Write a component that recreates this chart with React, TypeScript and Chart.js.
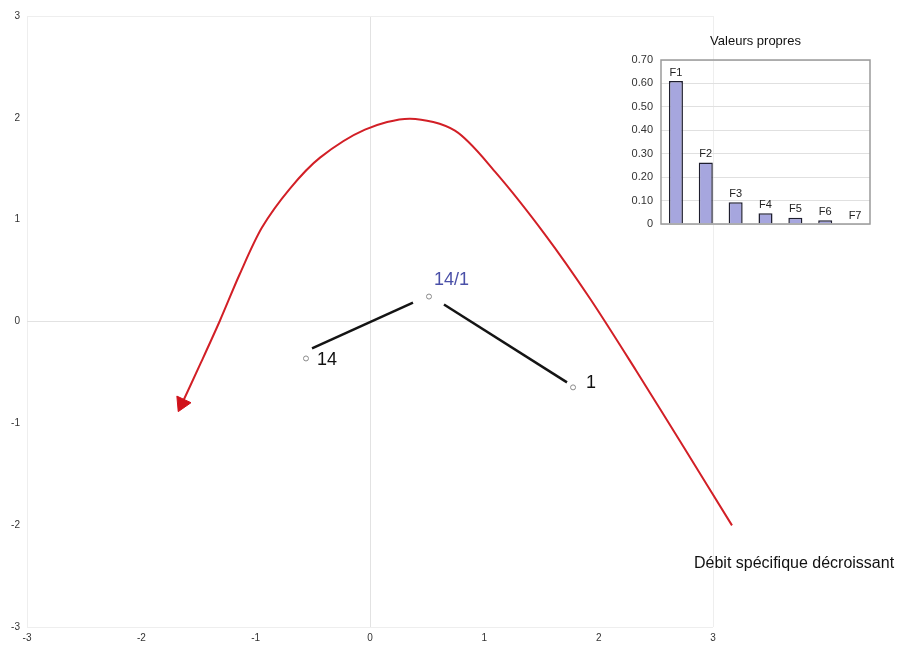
import React, { useEffect, useRef } from "react";
import { Chart, registerables } from "chart.js";

Chart.register(...registerables);

const FONT = '"Liberation Sans", Arial, sans-serif';

// Main factor map (axes -3..3)
const axisMin = -3;
const axisMax = 3;

// Red trajectory curve (data units), from lower-right start to arrow head
const curveX = [3.166, 2.746, 2.327, 1.924, 1.531, 1.093, 0.743, 0.35, -0.044, -0.437, -0.7, -0.945, -1.137, -1.312, -1.478, -1.644];
const curveY = [-2.002, -1.237, -0.481, 0.226, 0.854, 1.472, 1.874, 1.992, 1.884, 1.609, 1.305, 0.922, 0.471, 0.01, -0.402, -0.805];
const arrowRotation = 205;

// Observations
const pointNames = ["14", "14/1", "1"];
const pointX = [-0.56, 0.516, 1.776];
const pointY = [-0.363, 0.245, -0.647];
const labelColors = ["#111111", "#4a50a8", "#111111"];

// Connector segments
const seg1X = [-0.507, 0.376];
const seg1Y = [-0.265, 0.186];
const seg2X = [0.647, 1.723];
const seg2Y = [0.167, -0.598];

const trendText = "Débit spécifique décroissant";

// Inset eigenvalue chart
const insetTitle = "Valeurs propres";
const factorLabels = ["F1", "F2", "F3", "F4", "F5", "F6", "F7"];
const eigenValues = [0.61, 0.262, 0.093, 0.046, 0.027, 0.016, 0];

const toXY = (xs: number[], ys: number[]) => xs.map((x, i) => ({ x, y: ys[i] }));

const mainLabelsPlugin = {
  id: "mainLabels",
  afterDatasetsDraw(chart: any) {
    const ctx = chart.ctx;
    const sx = chart.scales.x;
    const sy = chart.scales.y;
    const offsets = [
      [11, 2],
      [5, -17],
      [13, -4],
    ];
    ctx.save();
    ctx.font = `18px ${FONT}`;
    ctx.textBaseline = "middle";
    ctx.textAlign = "left";
    pointNames.forEach((name, i) => {
      const px = sx.getPixelForValue(pointX[i]);
      const py = sy.getPixelForValue(pointY[i]);
      ctx.fillStyle = labelColors[i];
      ctx.fillText(name, px + offsets[i][0], py + offsets[i][1]);
    });
    // trend caption anchored at the curve start
    const cx = sx.getPixelForValue(curveX[0]);
    const cy = sy.getPixelForValue(curveY[0]);
    ctx.font = `16px ${FONT}`;
    ctx.fillStyle = "#111111";
    ctx.fillText(trendText, cx - 38, cy + 38);
    ctx.restore();
  },
};

const insetPlugin = {
  id: "insetDecor",
  afterDatasetsDraw(chart: any) {
    const ctx = chart.ctx;
    const area = chart.chartArea;
    ctx.save();
    ctx.strokeStyle = "#9a9a9a";
    ctx.lineWidth = 1.5;
    ctx.strokeRect(area.left, area.top, area.right - area.left, area.bottom - area.top);
    const meta = chart.getDatasetMeta(0);
    ctx.font = `11px ${FONT}`;
    ctx.fillStyle = "#222222";
    ctx.textAlign = "center";
    ctx.textBaseline = "bottom";
    meta.data.forEach((bar: any, i: number) => {
      ctx.fillText(factorLabels[i], bar.x, bar.y - 3);
    });
    ctx.font = `13px ${FONT}`;
    ctx.fillStyle = "#111111";
    ctx.textBaseline = "middle";
    ctx.fillText(insetTitle, (area.left + area.right) / 2 - 10, area.top - 19);
    ctx.restore();
  },
};

const gridColor = (v: number) => {
  if (v === 0) return "#e2e2e2";
  if (v === axisMin || v === axisMax) return "#eeeeee";
  return "rgba(0,0,0,0)";
};

export default function App() {
  const mainRef = useRef<HTMLCanvasElement | null>(null);
  const insetRef = useRef<HTMLCanvasElement | null>(null);

  useEffect(() => {
    if (!mainRef.current || !insetRef.current) return;
    const n = curveX.length;
    const main = new Chart(mainRef.current, {
      type: "scatter",
      data: {
        datasets: [
          {
            data: toXY(curveX, curveY),
            showLine: true,
            borderColor: "#d21f26",
            borderWidth: 2,
            tension: 0.3,
            clip: false,
            pointRadius: curveX.map((_, i) => (i === n - 1 ? 9 : 0)),
            pointStyle: "triangle",
            rotation: curveX.map((_, i) => (i === n - 1 ? arrowRotation : 0)),
            pointBackgroundColor: "#d0121b",
            pointBorderColor: "#d0121b",
            pointBorderWidth: 1,
          } as any,
          {
            data: toXY(seg1X, seg1Y),
            showLine: true,
            borderColor: "#141414",
            borderWidth: 2.5,
            pointRadius: 0,
          },
          {
            data: toXY(seg2X, seg2Y),
            showLine: true,
            borderColor: "#141414",
            borderWidth: 2.5,
            pointRadius: 0,
          },
          {
            data: toXY(pointX, pointY),
            showLine: false,
            pointRadius: 2.5,
            pointBorderColor: "#8a8a8a",
            pointBackgroundColor: "#ffffff",
            pointBorderWidth: 1,
          },
        ],
      },
      options: {
        animation: false,
        responsive: false,
        maintainAspectRatio: false,
        layout: { padding: { top: 16, right: 186, left: 0, bottom: 0 } },
        plugins: { legend: { display: false }, tooltip: { enabled: false } },
        scales: {
          x: {
            type: "linear",
            min: axisMin,
            max: axisMax,
            ticks: { stepSize: 1, color: "#333333", font: { size: 10, family: FONT }, padding: 5 },
            grid: { color: (c: any) => gridColor(c.tick?.value), drawTicks: false },
            border: { display: false },
            afterFit: (s: any) => {
              s.height = 18;
            },
          },
          y: {
            type: "linear",
            min: axisMin,
            max: axisMax,
            ticks: { stepSize: 1, color: "#333333", font: { size: 10, family: FONT }, padding: 7 },
            grid: { color: (c: any) => gridColor(c.tick?.value), drawTicks: false },
            border: { display: false },
            afterFit: (s: any) => {
              s.width = 27;
            },
          },
        },
      },
      plugins: [mainLabelsPlugin],
    });

    const inset = new Chart(insetRef.current, {
      type: "bar",
      data: {
        labels: factorLabels,
        datasets: [
          {
            data: eigenValues,
            backgroundColor: "#a6a6de",
            borderColor: "#1e1e2e",
            borderWidth: 1.5,
            barPercentage: 0.47,
            categoryPercentage: 1,
          },
        ],
      },
      options: {
        animation: false,
        responsive: false,
        maintainAspectRatio: false,
        layout: { padding: { top: 42, right: 15, bottom: 16, left: 0 } },
        plugins: { legend: { display: false }, tooltip: { enabled: false } },
        scales: {
          x: { display: false },
          y: {
            min: 0,
            max: 0.7,
            ticks: {
              stepSize: 0.1,
              color: "#333333",
              font: { size: 11, family: FONT },
              padding: 8,
              callback: (v: any) => (Number(v) === 0 ? "0" : Number(v).toFixed(2)),
            },
            grid: { color: "#e0e0e0", drawTicks: false },
            border: { display: false },
            afterFit: (s: any) => {
              s.width = 33;
            },
          },
        },
      },
      plugins: [insetPlugin],
    });

    return () => {
      main.destroy();
      inset.destroy();
    };
  }, []);

  return (
    <div style={{ position: "absolute", left: 0, top: 0, width: 899, height: 645, background: "#ffffff" }}>
      <canvas ref={mainRef} width={899} height={645} style={{ position: "absolute", left: 0, top: 0, display: "block" }} />
      <canvas ref={insetRef} width={257} height={222} style={{ position: "absolute", left: 628, top: 18, display: "block" }} />
    </div>
  );
}
